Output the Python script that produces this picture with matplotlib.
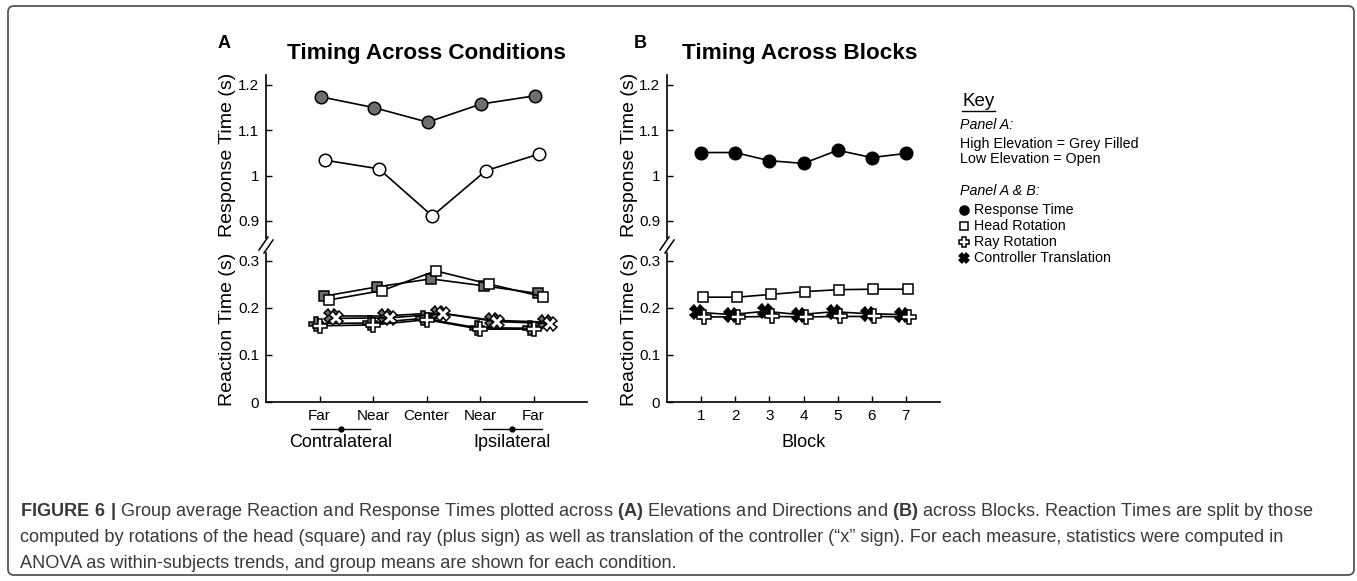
import matplotlib
matplotlib.use('Agg')
import matplotlib.pyplot as plt
import matplotlib.transforms as mtransforms
from matplotlib.patches import FancyBboxPatch

plt.rcParams['font.family'] = ['Liberation Sans', 'DejaVu Sans']
plt.rcParams['mathtext.fontset'] = 'custom'
plt.rcParams['mathtext.rm'] = 'Liberation Sans'
plt.rcParams['mathtext.bf'] = 'Liberation Sans:bold'

# ---- data: panel A (conditions) ----
conditions = ["Far", "Near", "Center", "Near", "Far"]
resp_high = [1.174, 1.150, 1.118, 1.158, 1.176]
resp_low = [1.034, 1.015, 0.911, 1.011, 1.048]
head_high = [0.225, 0.245, 0.262, 0.247, 0.231]
head_low = [0.217, 0.237, 0.279, 0.251, 0.224]
ray_high = [0.167, 0.168, 0.178, 0.158, 0.157]
ray_low = [0.162, 0.164, 0.175, 0.155, 0.155]
ctrl_high = [0.183, 0.183, 0.190, 0.174, 0.170]
ctrl_low = [0.178, 0.179, 0.188, 0.171, 0.167]

# ---- data: panel B (blocks) ----
blocks = [1, 2, 3, 4, 5, 6, 7]
resp_block = [1.051, 1.051, 1.033, 1.027, 1.056, 1.040, 1.049]
head_block = [0.223, 0.223, 0.229, 0.235, 0.239, 0.240, 0.240]
ray_block = [0.181, 0.181, 0.182, 0.181, 0.182, 0.182, 0.181]
ctrl_block = [0.191, 0.186, 0.193, 0.186, 0.192, 0.188, 0.186]

upper_ticks = [0.9, 1.0, 1.1, 1.2]
upper_labels = ["0.9", "1", "1.1", "1.2"]
lower_ticks = [0, 0.1, 0.2, 0.3]
lower_labels = ["0", "0.1", "0.2", "0.3"]

GREY = '#6e6e6e'
W, H = 1357, 581
fig = plt.figure(figsize=(W / 100, H / 100), dpi=100)

# overlay in pixel coordinates for the frame, key and caption
ov = fig.add_axes([0, 0, 1, 1])
ov.set_xlim(0, W)
ov.set_ylim(H, 0)
ov.axis('off')


def px_axes(x0, y0, x1, y1):
    return fig.add_axes([x0 / W, 1 - y1 / H, (x1 - x0) / W, (y1 - y0) / H])


def style(up, low, xmax, xticks, xlabels):
    for ax in (up, low):
        ax.spines['top'].set_visible(False)
        ax.spines['right'].set_visible(False)
        ax.spines['left'].set_linewidth(1.2)
        ax.spines['bottom'].set_linewidth(1.2)
        ax.tick_params(direction='in', length=4, width=1, labelsize=11, pad=5)
        ax.set_xlim(0, xmax)
        ax.patch.set_alpha(0)
    up.spines['bottom'].set_visible(False)
    up.set_xticks([])
    up.set_ylim(0.8625, 1.222)
    up.set_yticks(upper_ticks)
    up.set_yticklabels(upper_labels)
    low.set_ylim(0, 0.317)
    low.set_yticks(lower_ticks)
    low.set_yticklabels(lower_labels)
    low.set_xticks(xticks)
    low.set_xticklabels(xlabels)


def series(ax, x, y, off, marker, fc, ms):
    ax.plot([v + off for v in x], y, color='black', lw=1.2, marker=marker,
            ms=ms, mfc=fc, mec='black', mew=1.1, clip_on=False)


# ---- panel A ----
xa = [1, 2, 3, 4, 5]
upA = px_axes(266, 75, 587, 238)
lowA = px_axes(266, 253, 587, 402)
style(upA, lowA, 6, xa, conditions)
series(upA, xa, resp_high, 0.02, 'o', GREY, 9)
series(upA, xa, resp_low, 0.11, 'o', 'white', 9)
series(lowA, xa, head_high, 0.08, 's', GREY, 7.5)
series(lowA, xa, head_low, 0.17, 's', 'white', 7.5)
series(lowA, xa, ctrl_high, 0.22, 'X', GREY, 9.5)
series(lowA, xa, ray_high, -0.06, 'P', GREY, 10)
series(lowA, xa, ctrl_low, 0.31, 'X', 'white', 9.5)
series(lowA, xa, ray_low, 0.0, 'P', 'white', 10)

# side brackets under the tick labels
trA = mtransforms.blended_transform_factory(lowA.transData, lowA.transAxes)
for cx, name in [(1.4, "Contralateral"), (4.6, "Ipsilateral")]:
    lowA.plot([cx - 0.55, cx + 0.55], [-0.181, -0.181], color='black', lw=1,
              transform=trA, clip_on=False)
    lowA.plot([cx], [-0.181], 'o', color='black', ms=3.5, transform=trA,
              clip_on=False)
    lowA.text(cx, -0.275, name, ha='center', va='center', fontsize=13,
              transform=trA)

# ---- panel B ----
upB = px_axes(667, 75, 940, 238)
lowB = px_axes(667, 253, 940, 402)
style(upB, lowB, 8, blocks, [str(b) for b in blocks])
series(upB, blocks, resp_block, 0.0, 'o', 'black', 9)
series(lowB, blocks, head_block, 0.05, 's', 'white', 7.5)
series(lowB, blocks, ctrl_block, -0.12, 'X', 'black', 9.5)
series(lowB, blocks, ray_block, 0.08, 'P', 'white', 10)
lowB.text(0.5, -0.275, "Block", ha='center', va='center', fontsize=13,
          transform=lowB.transAxes)

# break marks and labels
for sx in (266, 667):
    ov.plot([sx - 7, sx + 2], [250, 237], color='black', lw=1.1)
    ov.plot([sx - 2, sx + 7], [253, 240], color='black', lw=1.1)
    ov.text(sx - 38, 155, "Response Time (s)", rotation=90, ha='center',
            va='center', fontsize=14)
    ov.text(sx - 38, 329, "Reaction Time (s)", rotation=90, ha='center',
            va='center', fontsize=14)

ov.text(224, 43, "A", ha='center', va='center', fontsize=13, fontweight='bold')
ov.text(640, 43, "B", ha='center', va='center', fontsize=13, fontweight='bold')
ov.text(426, 53, "Timing Across Conditions", ha='center', va='center',
        fontsize=16.2, fontweight='bold')
ov.text(800, 53, "Timing Across Blocks", ha='center', va='center',
        fontsize=16.2, fontweight='bold')

# ---- key ----
ov.text(962, 101, "Key", ha='left', va='center', fontsize=13.5)
ov.plot([962, 995], [111, 111], color='black', lw=1)
ov.text(960, 125, "Panel A:", ha='left', va='center', fontsize=10.3, style='italic')
ov.text(960, 144, "High Elevation = Grey Filled", ha='left', va='center', fontsize=10.3)
ov.text(960, 159, "Low Elevation = Open", ha='left', va='center', fontsize=10.3)
ov.text(960, 191, "Panel A & B:", ha='left', va='center', fontsize=10.3, style='italic')
key_items = [("Response Time", 'o', 'black'), ("Head Rotation", 's', 'white'),
             ("Ray Rotation", 'P', 'white'), ("Controller Translation", 'X', 'black')]
for i, (name, mk, fc) in enumerate(key_items):
    yy = 210 + 16 * i
    ov.plot([964], [yy], marker=mk, ms=6.5 if mk != 's' else 5.5, mfc=fc,
            mec='black', mew=1.1, ls='none')
    ov.text(974, yy, name, ha='left', va='center', fontsize=10.3)

# ---- frame and caption ----
ov.add_patch(FancyBboxPatch((8, 6), 1346, 569, boxstyle='round,pad=0,rounding_size=6',
                            fc='none', ec='#555555', lw=1.3))

cap_lines = [
    r"$\bf{FIGURE\ 6\ |}$ Group average Reaction and Response Times plotted across "
    r"$\bf{(A)}$ Elevations and Directions and $\bf{(B)}$ across Blocks. Reaction Times are split by those",
    "computed by rotations of the head (square) and ray (plus sign) as well as translation "
    "of the controller (\u201cx\u201d sign). For each measure, statistics were computed in",
    "ANOVA as within-subjects trends, and group means are shown for each condition.",
]
caps = [ov.text(20, 512 + 26 * i, s, ha='left', va='center', fontsize=12,
                color='#3a3a3a') for i, s in enumerate(cap_lines)]
fig.canvas.draw()
w = caps[0].get_window_extent().width
for c in caps:
    c.set_fontsize(12 * 1290 / w)

fig.savefig('out.png', dpi=100)
